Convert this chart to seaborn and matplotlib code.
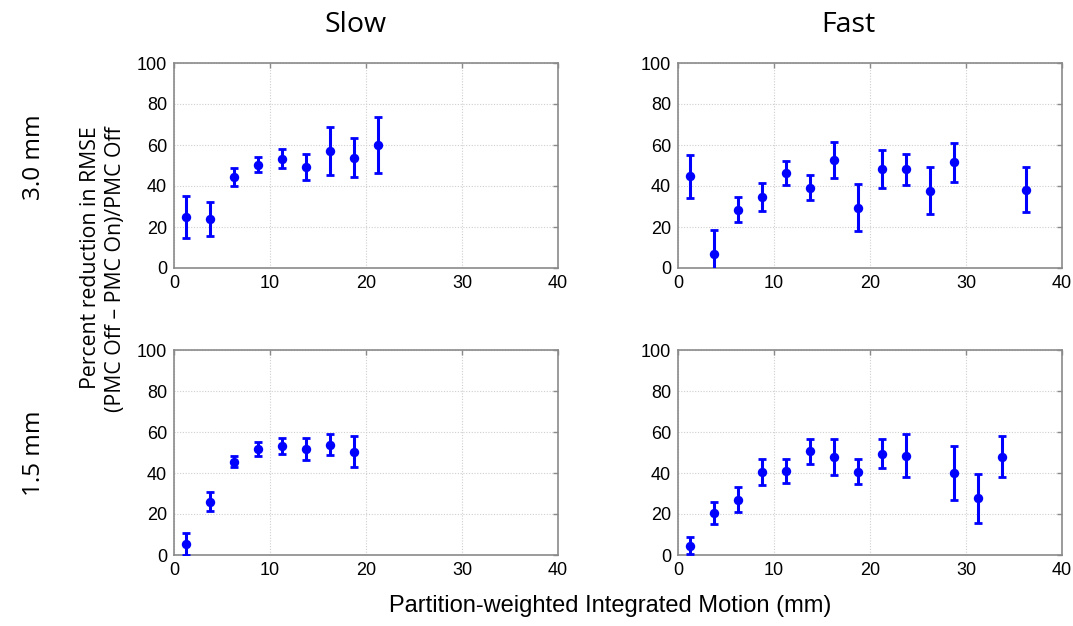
import matplotlib
matplotlib.use("Agg")
import matplotlib.pyplot as plt
import seaborn as sns

# Partition-weighted integrated motion (mm) and percent RMSE reduction (mean, +/- error)
x_slow_3mm = [1.25, 3.75, 6.25, 8.75, 11.25, 13.75, 16.25, 18.75, 21.25]
y_slow_3mm = [24.9, 24.0, 44.5, 50.4, 53.3, 49.3, 57.1, 53.8, 60.2]
e_slow_3mm = [10.4, 8.3, 4.5, 3.8, 4.7, 6.3, 11.7, 9.5, 13.7]

x_fast_3mm = [1.25, 3.75, 6.25, 8.75, 11.25, 13.75, 16.25, 18.75, 21.25, 23.75, 26.25, 28.75, 36.25]
y_fast_3mm = [44.7, 6.9, 28.5, 34.7, 46.5, 39.2, 52.7, 29.5, 48.4, 48.1, 37.7, 51.5, 38.2]
e_fast_3mm = [10.5, 11.5, 6.2, 6.9, 5.9, 6.0, 8.7, 11.6, 9.4, 7.5, 11.5, 9.5, 11.0]

x_slow_15mm = [1.25, 3.75, 6.25, 8.75, 11.25, 13.75, 16.25, 18.75]
y_slow_15mm = [5.5, 26.0, 45.5, 51.7, 53.2, 51.7, 53.8, 50.4]
e_slow_15mm = [5.4, 4.5, 2.8, 3.4, 4.0, 5.3, 5.2, 7.7]

x_fast_15mm = [1.25, 3.75, 6.25, 8.75, 11.25, 13.75, 16.25, 18.75, 21.25, 23.75, 28.75, 31.25, 33.75]
y_fast_15mm = [4.6, 20.3, 27.0, 40.5, 40.8, 50.6, 47.6, 40.7, 49.4, 48.5, 40.0, 27.6, 48.0]
e_fast_15mm = [4.0, 5.4, 6.0, 6.3, 5.8, 6.0, 8.8, 6.3, 7.1, 10.5, 13.3, 11.8, 10.1]

col_titles = ["Slow", "Fast"]
row_titles = ["3.0 mm", "1.5 mm"]
x_ticks = [0, 10, 20, 30, 40]
y_ticks = [0, 20, 40, 60, 80, 100]
y_label = "Percent reduction in RMSE\n(PMC Off \u2013 PMC On)/PMC Off"
x_label = "Partition-weighted Integrated Motion (mm)"

sns.set_theme(style="white")
plt.rcParams["font.family"] = ["Liberation Sans", "DejaVu Sans"]
plt.rcParams["text.color"] = "black"

W, H = 1073, 626
fig = plt.figure(figsize=(W / 100, H / 100), dpi=100)
fig.patch.set_facecolor("white")

BLUE = "#0000ff"
SPINE = "#8a8a8a"

panels = [
    (x_slow_3mm, y_slow_3mm, e_slow_3mm, 174, 63),
    (x_fast_3mm, y_fast_3mm, e_fast_3mm, 678, 63),
    (x_slow_15mm, y_slow_15mm, e_slow_15mm, 174, 350),
    (x_fast_15mm, y_fast_15mm, e_fast_15mm, 678, 350),
]
ax_w, ax_h = 384, 205

for xs, ys, es, left_px, top_px in panels:
    ax = fig.add_axes([left_px / W, 1 - (top_px + ax_h) / H, ax_w / W, ax_h / H])
    ax.errorbar(xs, ys, yerr=es, fmt="none", ecolor=BLUE, elinewidth=2.2,
                capsize=2.8, capthick=2.0, zorder=3)
    sns.scatterplot(x=xs, y=ys, ax=ax, color=BLUE, s=46, linewidth=0, zorder=4)
    ax.set_xlim(0, 40)
    ax.set_ylim(0, 100)
    ax.set_xticks(x_ticks)
    ax.set_yticks(y_ticks)
    ax.grid(True, linestyle=(0, (1, 1.5)), color="#cfcfcf", linewidth=0.8)
    ax.set_axisbelow(True)
    ax.tick_params(direction="in", length=3.5, width=1.0, color=SPINE,
                   top=True, right=True, labelsize=13, labelcolor="black", pad=5)
    for sp in ax.spines.values():
        sp.set_color(SPINE)
        sp.set_linewidth(1.2)
    ax.set_xlabel("")
    ax.set_ylabel("")

title_font = ["Open Sans", "DejaVu Sans"]
fig.text(356 / W, 1 - 32 / H, col_titles[0], ha="center", va="baseline",
         fontsize=20.5, family=title_font)
fig.text(848 / W, 1 - 32 / H, col_titles[1], ha="center", va="baseline",
         fontsize=20.5, family=title_font)

fig.text(34 / W, 1 - 157 / H, row_titles[0], rotation=90, ha="center", va="center",
         fontsize=17.5, family=title_font)
fig.text(34 / W, 1 - 453 / H, row_titles[1], rotation=90, ha="center", va="center",
         fontsize=17.5, family=title_font)

fig.text(103 / W, 1 - 126 / H, y_label, rotation=90, ha="center", va="top",
         multialignment="right", fontsize=15.3, linespacing=1.25, family=title_font)

fig.text(610 / W, 1 - 606 / H, x_label, ha="center", va="center", fontsize=17)

fig.savefig("out.png", dpi=100, facecolor="white")
